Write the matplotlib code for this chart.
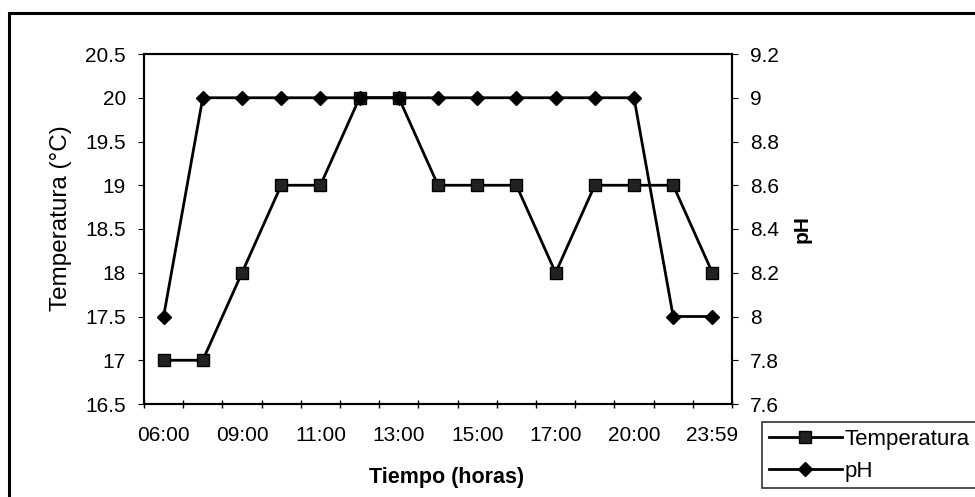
import matplotlib
matplotlib.use('Agg')
import numpy as np
import matplotlib.pyplot as plt
from matplotlib.patches import Rectangle

plt.rcParams['font.family'] = ['Liberation Sans', 'DejaVu Sans']

# data (15 readings)
hour_labels = ['06:00', '09:00', '11:00', '13:00', '15:00', '17:00', '20:00', '23:59']
temperatura = [17, 17, 18, 19, 19, 20, 20, 19, 19, 19, 18, 19, 19, 19, 18]
ph = [8, 9, 9, 9, 9, 9, 9, 9, 9, 9, 9, 9, 9, 8, 8]

x = np.arange(len(temperatura))

fig = plt.figure(figsize=(9.75, 4.97), dpi=100)
ax = fig.add_axes([144 / 975, 1 - 404 / 497, (732 - 144) / 975, (404 - 54) / 497])
ax2 = ax.twinx()

l1, = ax.plot(x, temperatura, color='black', lw=2, marker='s', markersize=9,
              markerfacecolor='#222222', markeredgecolor='black', label='Temperatura')
l2, = ax2.plot(x, ph, color='black', lw=2, marker='D', markersize=7,
               markerfacecolor='black', label='pH')

ax.set_xlim(-0.5, len(x) - 0.5)
ax.set_ylim(16.5, 20.5)
ax.set_yticks(np.arange(16.5, 20.51, 0.5))
ax.set_yticklabels(['16.5', '17', '17.5', '18', '18.5', '19', '19.5', '20', '20.5'])
ax2.set_ylim(7.6, 9.2)
ax2.set_yticks(np.arange(7.6, 9.21, 0.2))
ax2.set_yticklabels(['7.6', '7.8', '8', '8.2', '8.4', '8.6', '8.8', '9', '9.2'])

# category boundary ticks, labels on every other category
ax.set_xticks(np.arange(-0.5, len(x), 1.0))
ax.set_xticklabels([])
ax.set_xticks(x[::2], minor=True)
ax.set_xticklabels(hour_labels, minor=True)
ax.tick_params(axis='x', which='major', direction='inout', length=6, width=1)
ax.tick_params(axis='x', which='minor', length=0, pad=16, labelsize=15)
ax.tick_params(axis='y', direction='out', length=4, labelsize=15, pad=9)
ax2.tick_params(axis='y', direction='out', length=4, labelsize=15, pad=9)

for a in (ax, ax2):
    for s in a.spines.values():
        s.set_linewidth(1.5)
        s.set_color('black')
ax.spines['top'].set_linewidth(0.8)

ax.set_xlabel('Tiempo (horas)', fontsize=15.5, fontweight='bold')
ax.xaxis.set_label_coords(0.515, -0.18)
ax.set_ylabel('Temperatura (°C)', fontsize=17.5)
ax.yaxis.set_label_coords(-0.122, 0.53)
ax2.set_ylabel('pH', fontsize=15, fontweight='bold', rotation=90)
ax2.yaxis.set_label_coords(1.103, 0.5)

leg = fig.legend(handles=[l1, l2], loc='upper left',
                 bbox_to_anchor=(762 / 975, 1 - 422 / 497),
                 frameon=True, fancybox=False, edgecolor='black',
                 fontsize=16, handlelength=3.3, borderpad=0.3,
                 labelspacing=0.5, handletextpad=0.1, borderaxespad=0)
leg.get_frame().set_linewidth(1.2)

# outer chart-area border
fig.patches.append(Rectangle((9 / 975, -0.05), 1.1, 1 - 13 / 497 + 0.05,
                             transform=fig.transFigure, fill=False,
                             edgecolor='black', lw=2.2))

fig.savefig('out.png', dpi=100)
